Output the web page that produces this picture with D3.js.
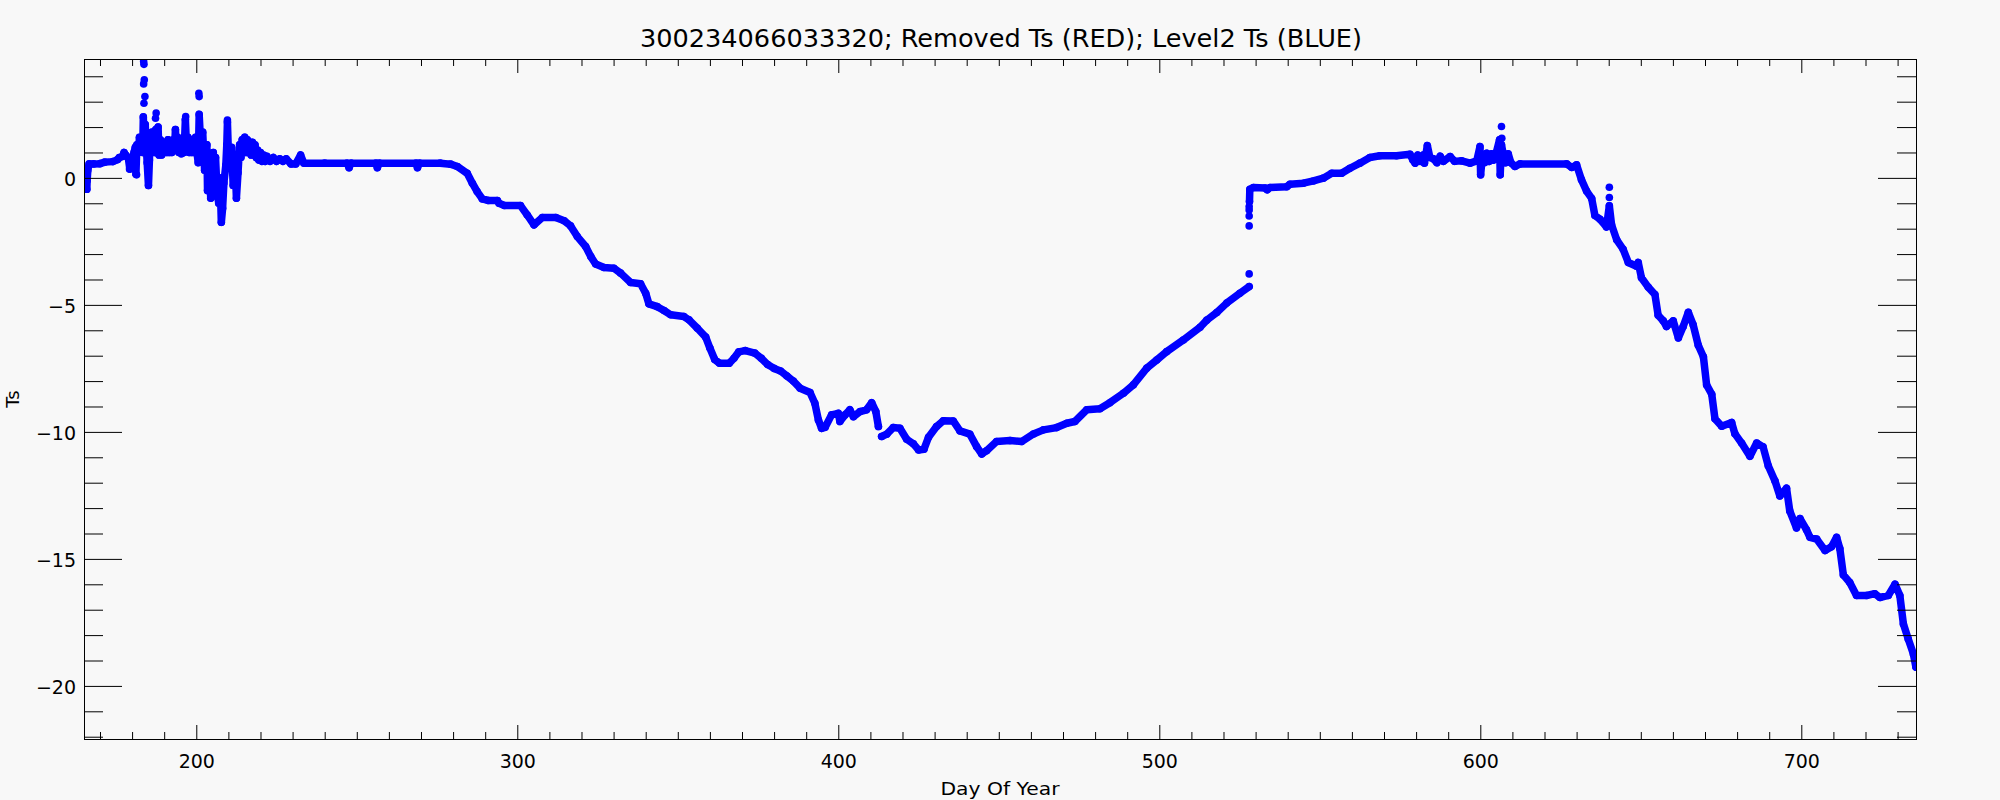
<!DOCTYPE html>
<html><head><meta charset="utf-8">
<script src="https://cdn.jsdelivr.net/npm/d3@7"></script>
<style>
body{margin:0;background:#f8f8f8}
svg{display:block}
</style>
</head><body><svg id="c" width="2000" height="800"></svg>
<script>
// ---------------- data ----------------
const titleText = "300234066033320; Removed Ts (RED); Level2 Ts (BLUE)";
const xLabel = "Day Of Year";
const yLabel = "Ts";
const xDomain = [165.02, 735.73];
const yDomain = [-22.09, 4.68];
const xMajorTicks = [200, 300, 400, 500, 600, 700];
const xMinorTicks = [170,180,190,210,220,230,240,250,260,270,280,290,310,320,330,340,350,360,370,380,390,410,420,430,440,450,460,470,480,490,510,520,530,540,550,560,570,580,590,610,620,630,640,650,660,670,680,690,710,720,730];
const yMajorTicks = [-20, -15, -10, -5, 0];
const yMinorTicks = [-22,-21,-19,-18,-17,-16,-14,-13,-12,-11,-9,-8,-7,-6,-4,-3,-2,-1,1,2,3,4];

// Level2 Ts trace (null = gap in record)
const traceDay = [165.9,166.0,166.2,166.6,168,170,171.5,174,175.5,176,177,177.5,178,178.8,179.3,179.6,180.2,180.6,181,181.2,181.5,182,182.3,182.7,183,183.3,183.5,183.8,184.1,184.3,184.7,185.1,185.4,185.6,185.9,186.2,186.5,186.8,187.1,187.4,187.8,188.1,188.4,188.8,189.2,189.6,190,190.4,190.8,191.2,191.6,192,192.4,192.8,193.2,193.5,193.8,194.2,194.6,195,195.4,195.8,196.2,196.6,197,197.4,197.8,198.2,198.6,199,199.4,199.8,200.2,200.6,200.9,201.3,201.7,202,202.3,202.6,203,203.3,203.5,204,204.5,205,205.3,205.5,206,206.5,207,207.3,207.5,207.8,208.2,208.6,209.2,209.5,209.7,210,210.5,211,211.5,212,212.5,213,213.5,213.9,214.3,214.7,215.1,215.5,215.9,216.3,216.7,217.1,217.5,217.9,218.3,218.7,219.1,219.5,220,220.5,221,221.5,222,223,224,225,226,227,228,229.5,231,232.5,233.5,240,247,247.6,248.2,256,256.4,257,268.5,268.9,269.5,276,279.2,281.3,284.4,286,287.5,289.1,291,293.8,294.3,296,301,303.1,305.2,307.8,312,314.6,316.6,318.7,321.3,322.9,324.4,327,330.1,332.2,335.3,338.4,340,341,343.6,345.7,347.8,351.9,353.5,356.1,358.7,360,361.5,363,366,367.5,369,371,374,376,378,380,382,384,386,388.1,391.2,392.7,393.8,394.8,395.9,397.9,400,400.5,402.1,403.6,404.7,406.8,408.8,410.4,411.7,412.5,
  413.0,
  413.5,415.1,417.1,419.2,421.3,423.4,425,426.7,428.1,430.6,432.7,435.8,437.9,441,443.1,444.7,446.2,449.3,453.5,457.1,460.8,463.9,468,471.2,473.7,477.4,481.5,484.6,488.8,491.9,496.1,499.2,502.3,507.5,512.7,514.8,517.9,521,525.1,528,
  528.05,
  528.1,528.2,529.3,533,533.6,534.5,539.7,540.7,544.9,548,551.1,553.7,556.8,559.4,562.5,565.6,568.7,573.9,578.1,579,579.7,580.5,581.3,582.3,582.6,583.5,584.3,585.4,586.5,587.5,588.5,590.6,592,594.2,596.8,598.9,599.9,600.1,600.6,601.3,602,602.8,603.5,604.1,605,606,606.2,606.6,607.2,607.9,608.7,609.5,610.8,612.4,626.9,628.5,630,631.5,633.1,634.7,635.7,637.3,639.3,640.2,640.9,642.5,644.5,646.1,648.7,649.2,650.2,652.3,654.4,655.4,657,658,660.1,661.7,663.2,664.8,666.3,667.9,669.5,670.5,672.1,673.1,675.2,678.3,679.3,681.4,684,686.1,688.1,689.7,691.8,693.3,695.4,696.4,698.5,699.6,701.6,702.7,704.8,707.4,709.4,711,712,713.1,715.1,717.2,720.3,722.9,724.5,727.1,729.2,730.7,731.8,733.3,734.9,735.7];
const traceTs = [-0.45,-0.1,0.3,0.55,0.55,0.56,0.62,0.64,0.72,0.8,0.84,1.0,0.9,0.8,0.35,0.8,0.75,1.0,1.2,0.15,1.3,1.0,1.6,1.1,1.5,1.0,2.4,1.2,2.1,1.5,0.6,-0.3,0.7,1.7,1.0,1.8,1.1,1.7,1.0,1.9,1.2,2.0,0.9,1.5,0.9,1.4,1.0,1.4,1.0,1.5,1.0,1.4,1.0,1.5,1.1,1.9,1.1,1.6,1.0,1.4,0.95,1.3,1.0,2.3,1.1,1.6,1.0,1.5,1.0,1.4,1.0,1.6,1.0,0.6,2.5,1.5,0.9,1.8,1.0,0.3,0.8,1.3,-0.5,0.6,-0.8,0.5,1.0,-0.4,0.8,-0.6,-1.0,0.0,-0.4,-1.75,-1.2,-0.2,0.5,1.3,2.2,1.0,0.4,1.2,-0.3,0.9,-0.8,0.2,1.3,0.8,1.5,1.0,1.6,1.0,1.5,1.0,1.4,0.9,1.4,0.9,1.3,0.8,1.1,0.7,1.0,0.65,0.9,0.65,0.85,0.65,0.8,0.65,0.75,0.65,0.75,0.55,0.55,0.9,0.58,0.58,0.58,0.4,0.58,0.58,0.4,0.58,0.58,0.4,0.58,0.58,0.54,0.45,0.18,-0.21,-0.54,-0.83,-0.89,-0.89,-1.0,-1.09,-1.09,-1.46,-1.85,-1.56,-1.56,-1.69,-1.89,-2.31,-2.70,-3.10,-3.39,-3.53,-3.56,-3.75,-4.12,-4.17,-4.54,-4.96,-5.07,-5.22,-5.39,-5.46,-5.59,-5.92,-6.27,-6.7,-7.15,-7.3,-7.3,-7.1,-6.85,-6.8,-6.9,-7.1,-7.35,-7.5,-7.6,-7.8,-8.0,-8.28,-8.45,-8.87,-9.53,-9.86,-9.82,-9.33,-9.27,-9.59,-9.33,-9.13,-9.4,-9.2,-9.13,-8.85,-9.2,-9.79,
  null,
  -10.18,-10.09,-9.83,-9.86,-10.29,-10.47,-10.71,-10.68,-10.21,-9.79,-9.56,-9.57,-9.96,-10.09,-10.58,-10.87,-10.74,-10.38,-10.34,-10.38,-10.08,-9.92,-9.83,-9.66,-9.59,-9.13,-9.09,-8.85,-8.48,-8.15,-7.49,-7.17,-6.84,-6.38,-5.88,-5.6,-5.3,-4.93,-4.54,-4.28,
  null,
  -0.93,-0.45,-0.38,-0.4,-0.47,-0.38,-0.35,-0.25,-0.21,-0.12,-0.01,0.18,0.18,0.38,0.58,0.8,0.87,0.87,0.93,0.7,0.58,0.9,0.65,0.9,0.58,1.27,0.8,0.75,0.6,0.85,0.65,0.84,0.65,0.67,0.58,0.67,1.23,0.12,0.8,0.6,0.97,0.65,0.95,0.7,1.0,1.5,0.12,1.3,0.9,0.6,0.95,0.6,0.45,0.55,0.55,0.41,0.51,-0.07,-0.52,-0.81,-1.48,-1.63,-1.93,-1.1,-1.85,-2.44,-2.81,-3.33,-3.48,-3.33,-3.93,-4.3,-4.59,-5.41,-5.63,-5.85,-5.63,-6.3,-5.85,-5.29,-5.78,-6.59,-7.04,-8.15,-8.52,-9.48,-9.78,-9.63,-10.07,-10.44,-10.96,-10.44,-10.59,-11.33,-11.93,-12.52,-12.22,-13.11,-13.78,-13.41,-13.85,-14.15,-14.22,-14.67,-14.52,-14.15,-14.59,-15.63,-15.93,-16.44,-16.44,-16.37,-16.52,-16.44,-16.0,-16.44,-17.56,-18.15,-18.74,-19.26];

// isolated Level2 Ts points (spikes and jumps)
const dotDay = [183.6,183.7,183.8,183.6,184.0,183.7,187.5,187.3,196.7,200.8,200.9,209.7,181.4,179.2,528.0,528.0,528.0,528.0,528.0,606.6,606.7,640.2,640.2];
const dotTs  = [4.58,4.47,3.86,3.7,3.2,2.94,2.55,2.35,2.41,3.33,3.2,2.28,0.12,0.35,-3.78,-1.89,-1.5,-1.26,-1.13,2.02,1.56,-0.37,-0.77];

// ---------------- drawing ----------------
const FONT = "'DejaVu Sans', sans-serif";
const svg = d3.select("#c");
svg.append("rect").attr("width", 2000).attr("height", 800).attr("fill", "#f8f8f8");

const L = 84, R = 1916, T = 59, B = 739;
const x = d3.scaleLinear().domain(xDomain).range([L, R]);
const y = d3.scaleLinear().domain(yDomain).range([B, T]);

svg.append("defs").append("clipPath").attr("id", "clip")
  .append("rect").attr("x", L).attr("y", T).attr("width", R - L).attr("height", B - T);

const plot = svg.append("g").attr("clip-path", "url(#clip)");
const trace = traceDay.map((d, i) => ({ d, v: traceTs[i] }));
const line = d3.line().defined(p => p.v !== null).x(p => x(p.d)).y(p => y(p.v));
plot.append("path").datum(trace).attr("d", line)
  .attr("fill", "none").attr("stroke", "#0000ff").attr("stroke-width", 7.5)
  .attr("stroke-linejoin", "round").attr("stroke-linecap", "round");
plot.selectAll("circle.t").data(trace.filter(p => p.v !== null)).join("circle")
  .attr("class", "t").attr("cx", p => x(p.d)).attr("cy", p => y(p.v)).attr("r", 3.8).attr("fill", "#0000ff");
plot.selectAll("circle.s").data(dotDay.map((d, i) => ({ d, v: dotTs[i] }))).join("circle")
  .attr("class", "s").attr("cx", p => x(p.d)).attr("cy", p => y(p.v)).attr("r", 3.8).attr("fill", "#0000ff");

// axes
function styleAxis(g) {
  g.select(".domain").remove();
  g.selectAll("line").attr("stroke", "#000");
  g.selectAll("text").attr("font-family", FONT).attr("font-size", 19).attr("fill", "#000");
}
svg.append("g").attr("transform", `translate(0,${B})`)
  .call(d3.axisBottom(x).tickValues(xMajorTicks).tickSize(-14).tickPadding(16).tickFormat(d3.format("d")))
  .call(styleAxis);
svg.append("g").attr("transform", `translate(0,${B})`)
  .call(d3.axisBottom(x).tickValues(xMinorTicks).tickSize(-7).tickFormat(""))
  .call(styleAxis);
svg.append("g").attr("transform", `translate(0,${T})`)
  .call(d3.axisTop(x).tickValues(xMajorTicks).tickSize(-14).tickFormat(""))
  .call(styleAxis);
svg.append("g").attr("transform", `translate(0,${T})`)
  .call(d3.axisTop(x).tickValues(xMinorTicks).tickSize(-7).tickFormat(""))
  .call(styleAxis);
const yl = svg.append("g").attr("transform", `translate(${L},0)`)
  .call(d3.axisLeft(y).tickValues(yMajorTicks).tickSize(-38).tickPadding(8))
  .call(styleAxis);
yl.selectAll("text").attr("dy", "0.4em");
svg.append("g").attr("transform", `translate(${L},0)`)
  .call(d3.axisLeft(y).tickValues(yMinorTicks).tickSize(-19).tickFormat(""))
  .call(styleAxis);
svg.append("g").attr("transform", `translate(${R},0)`)
  .call(d3.axisRight(y).tickValues(yMajorTicks).tickSize(-38).tickFormat(""))
  .call(styleAxis);
svg.append("g").attr("transform", `translate(${R},0)`)
  .call(d3.axisRight(y).tickValues(yMinorTicks).tickSize(-19).tickFormat(""))
  .call(styleAxis);

svg.append("rect").attr("x", L + 0.5).attr("y", T + 0.5).attr("width", R - L).attr("height", B - T)
  .attr("fill", "none").attr("stroke", "#000").attr("stroke-width", 1);

// titles
svg.append("text").attr("x", 1001).attr("y", 47).attr("text-anchor", "middle")
  .attr("font-family", FONT).attr("font-size", 24).attr("textLength", 722).attr("lengthAdjust", "spacingAndGlyphs")
  .text(titleText);
svg.append("text").attr("x", 1000).attr("y", 795).attr("text-anchor", "middle")
  .attr("font-family", FONT).attr("font-size", 18).attr("textLength", 119).attr("lengthAdjust", "spacingAndGlyphs")
  .text(xLabel);
svg.append("text").attr("transform", "translate(19,399) rotate(-90)").attr("text-anchor", "middle")
  .attr("font-family", FONT).attr("font-size", 18)
  .text(yLabel);
</script>
</body></html>
